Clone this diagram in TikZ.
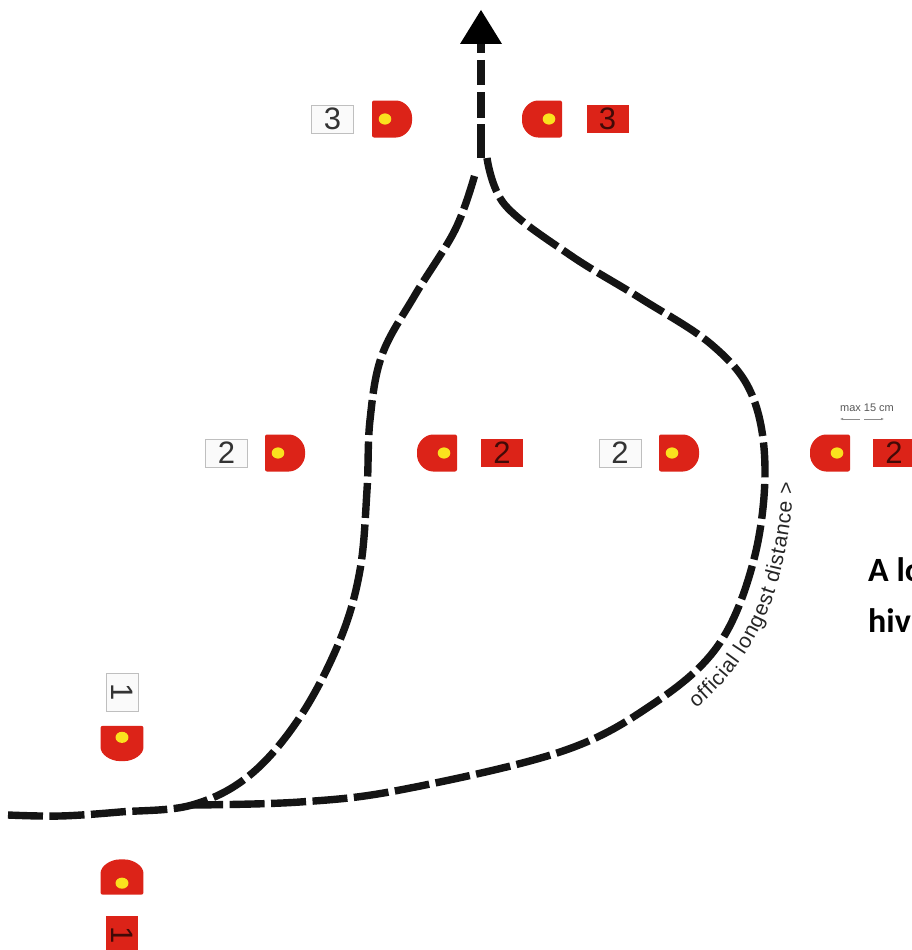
\documentclass[tikz,border=0pt]{standalone}
\usepackage{fontspec}
\setmainfont{Liberation Sans}
\newfontfamily\notefont{Carlito}
\usetikzlibrary{decorations.text,arrows.meta}
\definecolor{sigred}{HTML}{DC2318}
\definecolor{sigyellow}{HTML}{FAE21E}
\definecolor{roadblack}{HTML}{141414}
\tikzset{
  road/.style={draw=roadblack,line width=7.4pt,dash pattern=on 35pt off 6.5pt},
  plate/.style={draw=black!25,line width=.7pt,fill=black!2,minimum width=42pt,minimum height=28pt,inner sep=0pt,font=\fontsize{31}{31}\selectfont,text=black!80},
  redplate/.style={plate,draw=none,fill=sigred,text=black!70!sigred},
  note/.style={font=\notefont\bfseries\fontsize{34}{34}\selectfont,text=black,anchor=base west,inner sep=0pt},
  pics/post/.style={code={
    \fill[sigred,rounded corners=2pt] (-20,-18.5) -- (2,-18.5) .. controls (12.5,-18.5) and (20,-10) .. (20,0) .. controls (20,10) and (12.5,18.5) .. (2,18.5) -- (-20,18.5) -- cycle;
    \fill[sigyellow] (-7,0) ellipse[x radius=6.3,y radius=5.6];
  }},
}
\begin{document}
\begin{tikzpicture}[x=1pt,y=-1pt]
\useasboundingbox (0,0) rectangle (912,950);
\clip (0,0) rectangle (912,950);
\fill[white] (0,0) rectangle (912,950);
% named way points
\coordinate (start) at (8,815);
\coordinate (fork) at (192,805);
\coordinate (leftend) at (474.5,176);
\coordinate (rightstart) at (487,158);
\coordinate (trunkend) at (481,158);
\coordinate (tip) at (481,44);
% roads
\draw[road] plot[smooth,tension=.6] coordinates {(start) (60,816) (120,812) (fork) (250,775) (300,717) (340,640) (360,570) (367,490) (370,420) (382,355) (415,295) (455,230) (leftend)};
\draw[road] plot[smooth,tension=.6] coordinates {(rightstart) (505,205) (570,255) (640,298) (712,345) (752,395) (765,470) (753,563) (717,647) (650,706) (560,752) (400,790) (300,802) (fork)};
\draw[road,dash pattern=on 9pt off 7pt on 25pt off 7pt on 26pt off 6pt on 60pt] (tip) -- (trunkend);
% arrowhead
\fill[black] (481,10) -- (502,44) -- (460,44) -- cycle;
% row 3
\node[plate] (p3l) at (332.5,119) {3};
\pic at (392,119) {post};
\pic[rotate=180] at (542,119) {post};
\node[redplate] (p3r) at (607.5,119) {3};
% row 2
\node[plate] (p2a) at (226.5,453) {2};
\pic at (285,453) {post};
\pic[rotate=180] at (437,453) {post};
\node[redplate] (p2b) at (502,453) {2};
\node[plate] (p2c) at (620,453) {2};
\pic at (679,453) {post};
\pic[rotate=180] at (830,453) {post};
\node[redplate] (p2d) at (894,453) {2};
% row 1
\node[plate,rotate=-90,minimum width=38pt,minimum height=32pt] (p1t) at (122,692) {1};
\pic[rotate=-90,xscale=.88,yscale=1.16] at (122,743.5) {post};
\pic[rotate=90,xscale=.88,yscale=1.16] at (122,877) {post};
\node[redplate,rotate=-90,minimum width=38pt,minimum height=32pt] (p1b) at (122,935) {1};
% width note
\node[font=\fontsize{11}{11}\selectfont,text=black!65,inner sep=0pt] (maxw) at (867,408) {max 15 cm};
\coordinate (wl) at (840,419);
\coordinate (wr) at (884,419);
\draw[black!45,line width=.5pt,-{Latex[length=3pt,width=2.5pt]}] (860,419) -- (wl);
\draw[black!45,line width=.5pt,-{Latex[length=3pt,width=2.5pt]}] (864,419) -- (wr);
% distance label
\path[decorate,decoration={text along path,text align={fit to path},text={|\fontsize{21}{21}\selectfont\color{black!85}|official longest distance >}}]
  (696,708) .. controls (735,677) and (768,627) .. (781,570) .. controls (788,540) and (793,510) .. (793,482);
% cut-off text
\node[note] (n1) at (868,581) {A lo};
\node[note] (n2) at (868,632) {hiv};
\end{tikzpicture}
\end{document}
